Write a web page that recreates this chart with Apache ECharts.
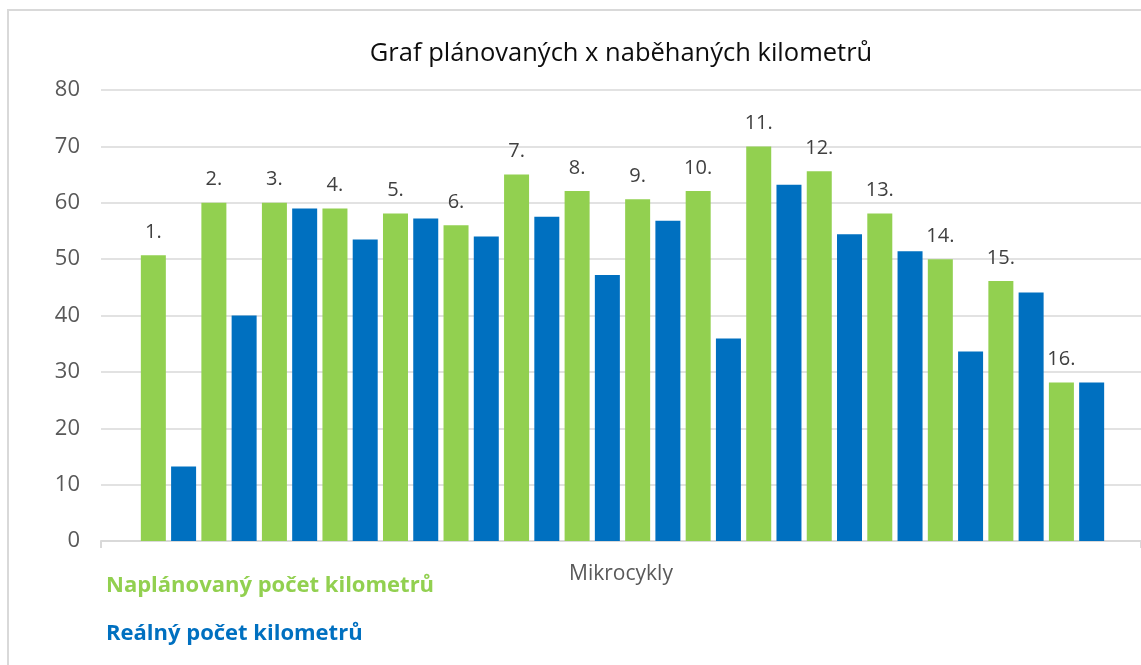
<!DOCTYPE html>
<html>
<head>
<meta charset="utf-8">
<script src="https://cdn.jsdelivr.net/npm/echarts@6/dist/echarts.min.js"></script>
<style>
html,body{margin:0;padding:0;background:#fff;}
#chart{width:1141px;height:665px;}
</style>
</head>
<body>
<div id="chart"></div>
<script>
// ---- data ----
var categories = ['1.','2.','3.','4.','5.','6.','7.','8.','9.','10.','11.','12.','13.','14.','15.','16.'];
var planned = [50.7, 60.0, 60.0, 59.0, 58.1, 56.0, 65.0, 62.1, 60.6, 62.1, 70.0, 65.6, 58.1, 50.0, 46.1, 28.1];
var real    = [13.2, 40.0, 59.0, 53.5, 57.2, 54.0, 57.5, 47.2, 56.8, 35.9, 63.2, 54.4, 51.4, 33.6, 44.1, 28.1];
var yTicks = {min: 0, max: 80, interval: 10};
var seriesNames = ['Naplánovaný počet kilometrů', 'Reálný počet kilometrů'];
var titleText = 'Graf plánovaných x naběhaných kilometrů';
var xAxisName = 'Mikrocykly';

var GREEN = '#92D050', BLUE = '#0070C0';
var FONT = 'Open Sans';

var chart = echarts.init(document.getElementById('chart'), null, {renderer: 'canvas'});
chart.setOption({
  animation: false,
  backgroundColor: '#ffffff',
  textStyle: {fontFamily: FONT},
  title: {
    text: titleText,
    left: 616, top: 36,
    textAlign: 'center',
    textStyle: {fontFamily: FONT, fontSize: 25.5, fontWeight: 'normal', color: '#0d0d0d'}
  },
  legend: {
    orient: 'vertical',
    left: 96, top: 570,
    itemWidth: 0, itemHeight: 0,
    itemGap: 26,
    selectedMode: false,
    data: [
      {name: seriesNames[0], textStyle: {color: GREEN}},
      {name: seriesNames[1], textStyle: {color: BLUE}}
    ],
    textStyle: {fontFamily: FONT, fontSize: 22, fontWeight: 'bold'}
  },
  graphic: [{
    type: 'rect', silent: true, z: -1,
    shape: {x: 8, y: 10, width: 1300, height: 800},
    style: {fill: null, stroke: '#d9d9d9', lineWidth: 2}
  }],
  grid: [
    {left: 101, right: 0, top: 90, bottom: 124},
    {left: 138.2, right: 34.2, top: 90, bottom: 124}
  ],
  xAxis: [
    {
      gridIndex: 0, type: 'category', data: [''],
      axisLine: {lineStyle: {color: '#d9d9d9', width: 2}},
      axisTick: {show: true, length: 7, lineStyle: {color: '#d9d9d9', width: 2}},
      axisLabel: {show: false},
      name: xAxisName, nameLocation: 'middle', nameGap: 23,
      nameTextStyle: {fontFamily: FONT, fontSize: 21, color: '#595959'}
    },
    {
      gridIndex: 1, type: 'category', data: categories,
      axisLine: {show: false}, axisTick: {show: false}, axisLabel: {show: false}
    }
  ],
  yAxis: [
    {
      gridIndex: 0, type: 'value', min: yTicks.min, max: yTicks.max, interval: yTicks.interval,
      axisLine: {show: false}, axisTick: {show: false},
      axisLabel: {margin: 21, fontFamily: FONT, fontSize: 22, color: '#595959'},
      splitLine: {lineStyle: {color: '#d9d9d9', width: 1.5}}
    },
    {
      gridIndex: 1, type: 'value', min: yTicks.min, max: yTicks.max, interval: yTicks.interval,
      show: false, splitLine: {show: false}
    }
  ],
  series: [
    {
      name: seriesNames[0], type: 'bar', xAxisIndex: 1, yAxisIndex: 1,
      data: planned, barWidth: 25, barGap: '21%',
      itemStyle: {color: GREEN},
      label: {
        show: true, position: 'top', distance: 13,
        formatter: '{b}',
        fontFamily: FONT, fontSize: 20, color: '#404040'
      }
    },
    {
      name: seriesNames[1], type: 'bar', xAxisIndex: 1, yAxisIndex: 1,
      data: real, barWidth: 25, barGap: '21%',
      itemStyle: {color: BLUE}
    }
  ]
});
</script>
</body>
</html>
